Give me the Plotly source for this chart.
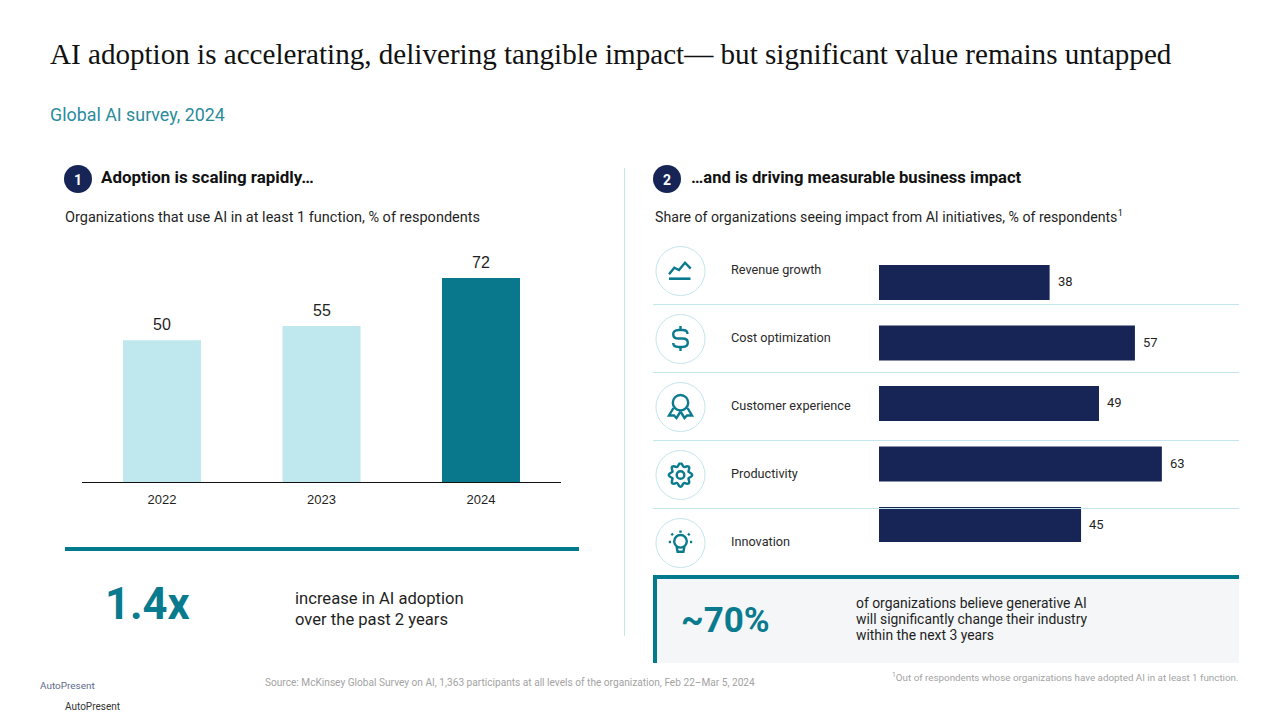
import re
import math
import plotly.graph_objects as go

W, H = 1280, 720

# Survey figures
years = ["2022", "2023", "2024"]
adoption = [50, 55, 72]
impact_areas = ["Revenue growth", "Cost optimization", "Customer experience", "Productivity", "Innovation"]
impact_share = [38, 57, 49, 63, 45]

TEAL = "#0a7a8e"
PALE = "#bfe8ee"
NAVY = "#162555"
RULE = "#c3e6ec"
INK = "#1f1f1f"
year_colors = [PALE, PALE, "#0a788c"]

SERIF = "Liberation Serif"
SANS = "Roboto"
ARIAL = "Liberation Sans"


def fx(x):
    return x / W


def fy(y):
    return 1 - y / H


def to_paper(d):
    """Convert an SVG path written in page pixels to paper coordinates."""
    out, is_x = [], True
    for tok in re.findall(r"[MLCZ]|-?[\d.]+", d):
        if tok in "MLCZ":
            out.append(tok)
            is_x = True
        else:
            out.append(f"{fx(float(tok)):.5f}" if is_x else f"{fy(float(tok)):.5f}")
            is_x = not is_x
    return " ".join(out)


shapes, notes = [], []


def rect(x0, y0, x1, y1, color, layer="above"):
    shapes.append(dict(type="rect", xref="paper", yref="paper", x0=fx(x0), x1=fx(x1), y0=fy(y0), y1=fy(y1),
                       fillcolor=color, line_width=0, layer=layer))


def line(x0, y0, x1, y1, color, width=1.0):
    shapes.append(dict(type="line", xref="paper", yref="paper", x0=fx(x0), x1=fx(x1), y0=fy(y0), y1=fy(y1),
                       line=dict(color=color, width=width), layer="above"))


def circle(cx, cy, r, stroke=None, width=1.0, fill="rgba(0,0,0,0)"):
    shapes.append(dict(type="circle", xref="paper", yref="paper", x0=fx(cx - r), x1=fx(cx + r), y0=fy(cy + r), y1=fy(cy - r),
                       fillcolor=fill, line=dict(color=stroke or fill, width=width if stroke else 0), layer="above"))


def stroke(d, width=2.4, color=TEAL):
    shapes.append(dict(type="path", xref="paper", yref="paper", path=to_paper(d),
                       line=dict(color=color, width=width), fillcolor="rgba(0,0,0,0)", layer="above"))


def label(text, x, y, size, color=INK, family=SANS, weight=400, anchor="left"):
    notes.append(dict(text=text, x=fx(x), y=fy(y), xref="paper", yref="paper", xanchor=anchor, yanchor="middle",
                      showarrow=False, borderpad=0, borderwidth=0, align=anchor,
                      font=dict(size=size, color=color, family=family, weight=weight)))


# Header
label("AI adoption is accelerating, delivering tangible impact— but significant value remains untapped",
      50, 54, 29.1, "#111111", SERIF)
label("Global AI survey, 2024", 50, 115, 17.85, "#2b8b9c")

# Section headings
for cx, num in ((78, "1"), (667, "2")):
    circle(cx, 179, 14, fill=NAVY)
    label(num, cx, 179.5, 14, "#ffffff", SANS, 700, "center")
label("Adoption is scaling rapidly…", 101, 177, 16.95, "#111111", SANS, 700)
label("…and is driving measurable business impact", 691, 177, 16.6, "#111111", SANS, 700)
label("Organizations that use AI in at least 1 function, % of respondents", 65, 217, 14.5, INK)
label("Share of organizations seeing impact from AI initiatives, % of respondents<sup>1</sup>", 655, 216.5, 14.15, INK)

# Divider between the panels
line(624.5, 168, 624.5, 636, RULE)

# Left callout
rect(65, 547, 579, 551, "#007a8c")
label("1.4x", 105, 604, 43.5, TEAL, SANS, 700)
for text, y in (("increase in AI adoption", 598), ("over the past 2 years", 619)):
    label(text, 295, y, 16.6, INK)

# Right callout
rect(653, 575, 1239, 663, "#f4f6f8", "below")
rect(653, 575, 1239, 579, "#007a8c")
rect(653, 575, 657, 663, "#007a8c")
label("~70%", 681, 620, 35, TEAL, SANS, 700)
for text, y in (("of organizations believe generative AI", 603),
                ("will significantly change their industry", 619),
                ("within the next 3 years", 635)):
    label(text, 856, y, 13.9, INK)

# Rows of the impact panel: badge, name and the rule beneath
row_y = [271, 339, 407, 475, 543]
for y, name in zip(row_y, impact_areas):
    circle(680.5, y, 24.5, RULE, 1)
    label(name, 731, y - 1.5, 12.7, "#2a2a2a")
for y in (304.5, 372.5, 440.5, 508.5):
    line(653, y, 1239, y, RULE, 1)

# Trend icon
stroke("M669 274.3 L674.3 267.7 L679 270 L685 262.7 L690.7 268.7")
stroke("M669 278.7 L690.5 278.7", 2.6)
# Dollar icon
stroke("M687.5 334 C687.5 331.5 685.5 330 682.5 330 L678.5 330 C675 330 673.2 332 673.2 334.2 "
       "C673.2 336.6 675 338.5 678.5 338.5 L682.5 338.5 C686 338.5 687.8 340.5 687.8 342.8 "
       "C687.8 345.3 686 347 682.5 347 L678.5 347 C675.2 347 673.2 345.3 673.2 343")
stroke("M680.5 326 L680.5 330")
stroke("M680.5 347 L680.5 351")
# Rosette icon
circle(680.5, 402.7, 7.7, TEAL, 2.4)
stroke("M673.5 408 L669 415.5 L674 415.5 L676.5 418 L680.5 411.5")
stroke("M687.5 408 L692 415.5 L687 415.5 L684.5 418 L680.5 411.5")
# Gear icon
gear_pts = []
for i in range(97):
    a = 2 * math.pi * i / 96
    r = 10.2 + 1.5 * math.cos(8 * a)
    gear_pts.append(f"{680.5 + r * math.sin(a):.2f} {475 - r * math.cos(a):.2f}")
stroke("M" + " L".join(gear_pts))
circle(680.5, 475, 3.8, TEAL, 2.4)
# Bulb icon
circle(680.5, 541.3, 6.3, TEAL, 2.4)
stroke("M676.6 546.5 L677.6 551.8 L683.4 551.8 L684.4 546.5")
for d in ("M680.5 530.5 L680.5 532.8", "M668.8 542 L671 542", "M690 542 L692.2 542",
          "M671.4 533.6 L673 535.2", "M689.6 533.6 L688 535.2"):
    stroke(d)

# Footer
label("Source: McKinsey Global Survey on AI, 1,363 participants at all levels of the organization, Feb 22–Mar 5, 2024",
      265, 682, 10.15, "#a3a3a3")
label("<sup>1</sup>Out of respondents whose organizations have adopted AI in at least 1 function.",
      1239, 677, 9.8, "#a3a3a3", anchor="right")
label("AutoPresent", 40, 685.5, 9.95, "#5d6b8c")
label("AutoPresent", 65, 706, 10, "#333333")

fig = go.Figure()

# Adoption by year; annotations address the category axis by index
fig.add_trace(go.Bar(x=years, y=adoption, width=78 / 159.5, marker=dict(color=year_colors, line_width=0),
                     xaxis="x", yaxis="y", showlegend=False, hoverinfo="skip"))
for i, v in enumerate(adoption):
    notes.append(dict(x=i, y=v, xref="x", yref="y", text=str(v), showarrow=False, xanchor="center", yanchor="bottom",
                      yshift=5, font=dict(size=16, color=INK, family=ARIAL)))

# Impact by area
fig.add_trace(go.Bar(y=impact_areas, x=impact_share, width=35 / 60.5, orientation="h",
                     marker=dict(color=NAVY, line_width=0),
                     xaxis="x2", yaxis="y2", showlegend=False, hoverinfo="skip"))
for area, v in zip(impact_areas, impact_share):
    notes.append(dict(x=v, y=area, xref="x2", yref="y2", text=str(v), showarrow=False, xanchor="left", yanchor="middle",
                      xshift=6, yshift=0.5, font=dict(size=13, color=INK, family=SANS)))

fig.update_layout(
    width=W, height=H, margin=dict(l=0, r=0, t=0, b=0, autoexpand=False),
    paper_bgcolor="#ffffff", plot_bgcolor="rgba(0,0,0,0)",
    shapes=shapes, annotations=notes,
    xaxis=dict(domain=[fx(82.25), fx(560.75)], anchor="y", type="category", range=[-0.5, 2.5], showgrid=False,
               zeroline=False, showline=True, linecolor="#111111", linewidth=1.2, ticks="outside", ticklen=5,
               tickcolor="rgba(0,0,0,0)", tickfont=dict(size=13, color=INK, family=ARIAL)),
    yaxis=dict(domain=[fy(482), fy(250)], anchor="x", range=[0, 232 / 2.835], visible=False),
    xaxis2=dict(domain=[fx(879), fx(1239)], anchor="y2", range=[0, 360 / 4.49], visible=False),
    yaxis2=dict(domain=[fy(554.75), fy(252.25)], anchor="x2", type="category", autorange="reversed", visible=False),
)

fig.write_html("out.html")
